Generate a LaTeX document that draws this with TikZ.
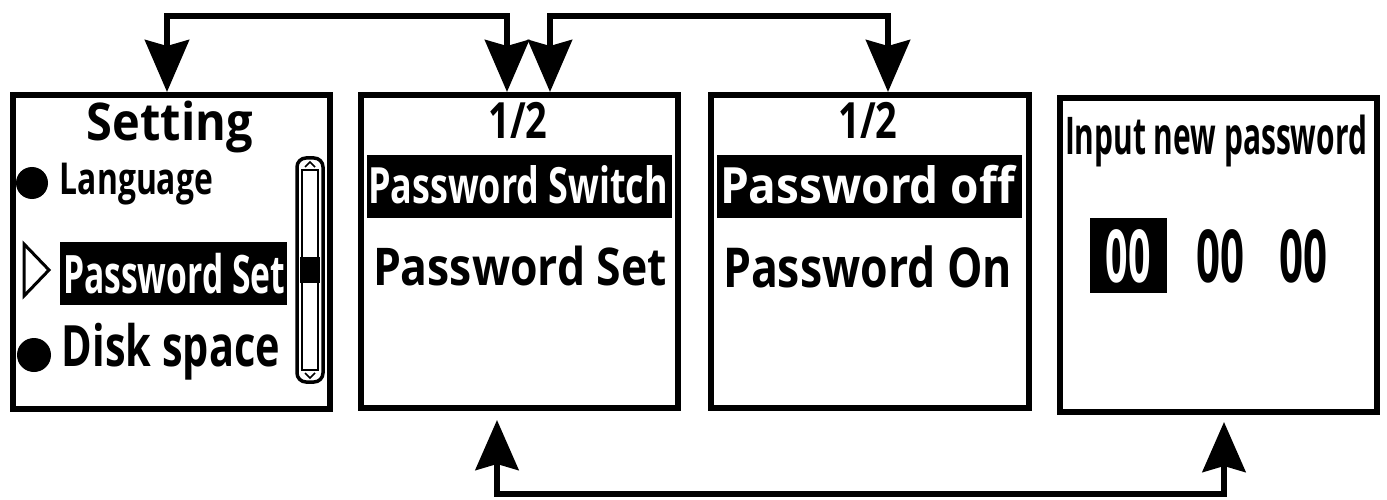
\documentclass[tikz,border=0pt]{standalone}
\usepackage{fontspec}
\setmainfont{Open Sans}
\usetikzlibrary{arrows.meta}
\newcommand{\fitw}[2]{\resizebox{#1}{\height}{#2}}
\newcommand{\fnt}[1]{\fontsize{#1}{#1}\selectfont\bfseries}
\begin{document}
\begin{tikzpicture}[x=1pt,y=-1pt,
  screen/.style={draw, line width=6pt, inner sep=0pt},
  txt/.style={inner sep=0pt, anchor=base},
  wtxt/.style={txt, text=white},
  conn/.style={line width=6pt, line join=miter, {Stealth[length=52pt,width=44pt,inset=6pt]}-{Stealth[length=52pt,width=44pt,inset=6pt]}},
  connb/.style={line width=6pt, line join=miter, {Stealth[length=50pt,width=43pt,inset=6pt]}-{Stealth[length=50pt,width=43pt,inset=6pt]}}
]
\useasboundingbox (0,0) rectangle (1387,500);
\fill[white] (0,0) rectangle (1387,500);

% screens
\node[screen, minimum width=317pt, minimum height=314pt] (s1) at (171.5,252) {};
\node[screen, minimum width=317pt, minimum height=313pt] (s2) at (519.5,251.5) {};
\node[screen, minimum width=318pt, minimum height=313pt] (s3) at (870,251.5) {};
\node[screen, minimum width=317pt, minimum height=314pt] (s4) at (1218.5,255) {};

% connectors
\draw[conn] ([xshift=-12.5pt]s2.north) -- ++(0,-76) -| ([xshift=-4.5pt]s1.north);
\draw[conn] ([xshift=30.5pt]s2.north) -- ++(0,-76) -| ([xshift=18pt]s3.north);
\draw[connb] ([xshift=-22.5pt,yshift=-9pt]s2.south) -- ++(0,74) -| ([xshift=5.5pt,yshift=-7pt]s4.south);

% screen 1
\node[txt] (t1a) at (170,141) {\fnt{52}\fitw{166pt}{Setting}};
\fill (32,183) circle[radius=16pt];
\node[txt] (t1b) at (136.5,194) {\fnt{44}\fitw{153pt}{Language}};
\fill (60,242) rectangle (287,305);
\node[wtxt] (t1c) at (174,293) {\fnt{53}\fitw{222pt}{Password Set}};
\draw[line width=3pt, line join=miter] (24,244) -- (49,270) -- (24,296) -- cycle;
\fill (34,355) circle[radius=17pt];
\node[txt] (t1d) at (171,366) {\fnt{57}\fitw{218pt}{Disk space}};
% scrollbar
\draw[line width=3.5pt, rounded corners=9pt] (297,158) rectangle (323,382);
\draw[line width=2.5pt] (302,170) rectangle (318,370);
\fill (300,257) rectangle (320,283);
\draw[line width=1.5pt] (305,167) -- (310,162) -- (315,167);
\draw[line width=1.5pt] (305,373) -- (310,378) -- (315,373);

% screen 2
\node[txt] (t2a) at (518,139) {\fnt{50}\fitw{59pt}{1/2}};
\fill (367,155) rectangle (672,218);
\node[wtxt] (t2b) at (518,203) {\fnt{50}\fitw{300pt}{Password Switch}};
\node[txt] (t2c) at (520,285) {\fnt{52}\fitw{294pt}{Password Set}};

% screen 3
\node[txt] (t3a) at (868,139) {\fnt{50}\fitw{59pt}{1/2}};
\fill (717,155) rectangle (1022,218);
\node[wtxt] (t3b) at (867.5,203) {\fnt{50}\fitw{295pt}{Password off}};
\node[txt] (t3c) at (867.5,287) {\fnt{55}\fitw{289pt}{Password On}};

% screen 4
\node[txt] (t4a) at (1216,155) {\fnt{52}\fitw{302pt}{Input new password}};
\fill (1090,218) rectangle (1167,293);
\node[wtxt] (t4b) at (1128,282) {\fnt{73}\fitw{45pt}{00}};
\node[txt] (t4c) at (1220,282) {\fnt{73}\fitw{48pt}{00}};
\node[txt] (t4d) at (1303,282) {\fnt{73}\fitw{48pt}{00}};
\end{tikzpicture}
\end{document}
